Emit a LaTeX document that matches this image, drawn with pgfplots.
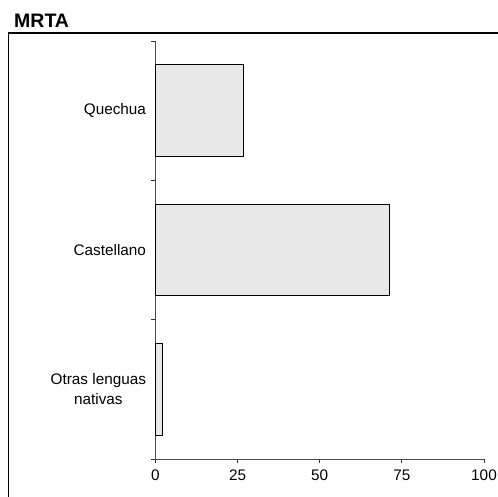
\documentclass[border=0pt]{standalone}
\usepackage{pgfplots}
\pgfplotsset{compat=1.18}
\usepackage{fontspec}
\setmainfont{Liberation Sans}
\begin{document}
\begin{tikzpicture}[x=1pt,y=1pt]
\useasboundingbox (0pt,0pt) rectangle (498pt,-496pt);
\draw[line width=1.5pt] (8.5pt,-497pt) -- (8.5pt,-33pt) -- (499pt,-33pt);
\node[anchor=base west, font=\fontsize{19.5}{22}\selectfont\bfseries, inner sep=0pt] at (14pt,-27.5pt) {MRTA};
\begin{axis}[
  at={(155.5pt,-459pt)}, anchor=south west,
  scale only axis, width=328.5pt, height=418pt,
  xmin=0, xmax=100, ymin=-0.5, ymax=2.5,
  axis lines*=left,
  axis line style={black!70, line width=0.8pt},
  xtick={0,25,50,75,100},
  ytick={0,1,2},
  yticklabels={{Otras lenguas\\nativas},Castellano,Quechua},
  minor ytick={-0.5,0.5,1.5,2.5},
  major y tick style={draw=none},
  tick style={black!80, line width=0.8pt},
  tick align=outside,
  major tick length=4pt, minor tick length=4pt,
  ticklabel style={font=\fontsize{15.3}{20}\selectfont},
  yticklabel style={align=center, xshift=-2pt},
  xticklabel style={yshift=-3pt},
  /pgf/number format/assume math mode=true,
  xbar, bar width=0.66,
  clip=false,
]
\addplot[fill=black!9, draw=black, line width=1pt] coordinates {(2.0,0) (71.2,1) (26.8,2)};
\end{axis}
\end{tikzpicture}
\end{document}
